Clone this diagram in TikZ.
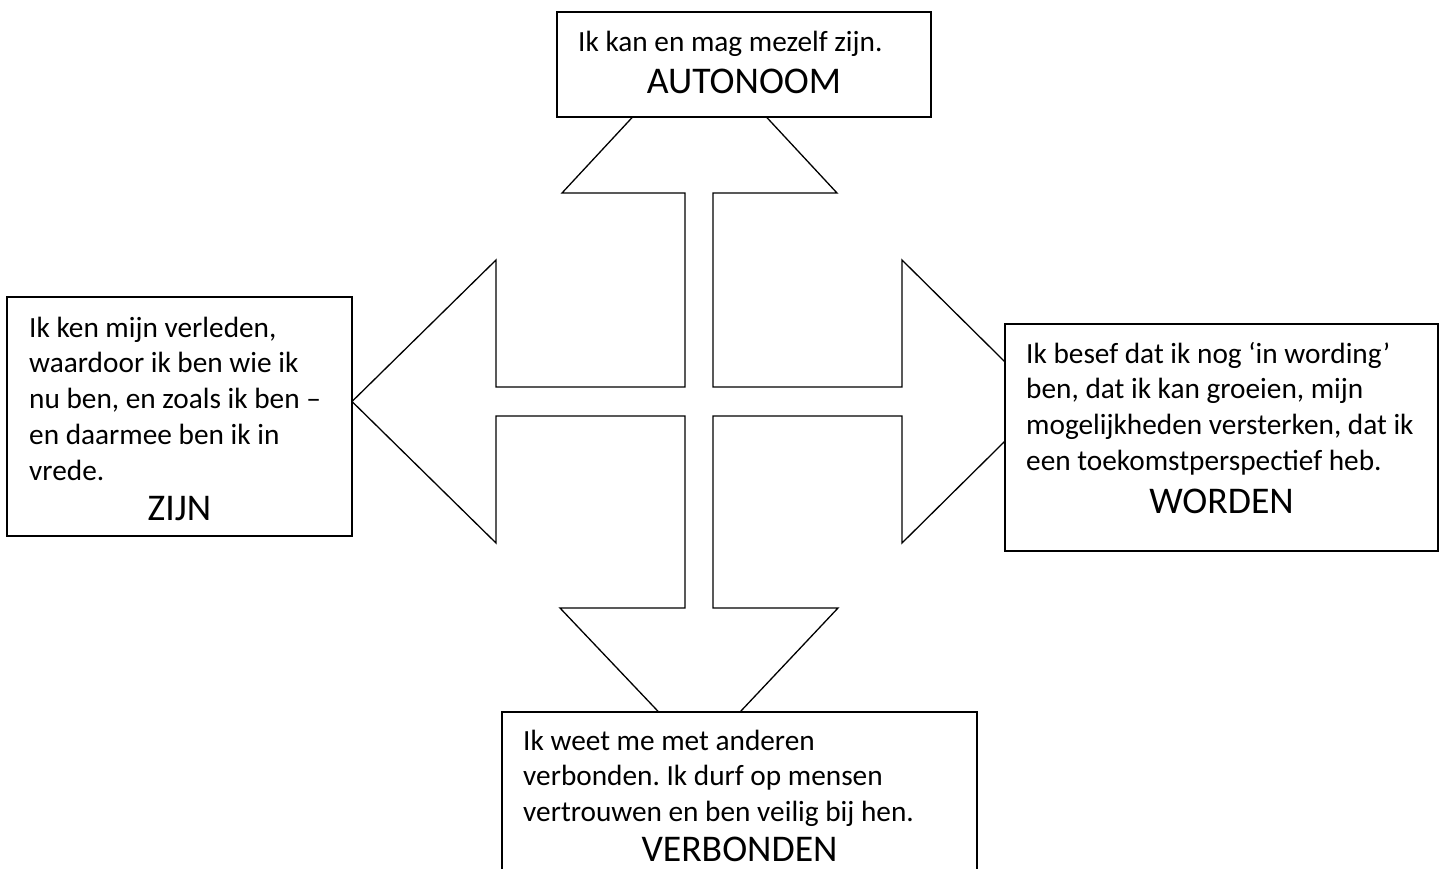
\documentclass[tikz,border=0pt]{standalone}
\usepackage{fontspec}
\setmainfont{Carlito}
\tikzset{
  box/.style={draw, line width=1.8pt, fill=white, rectangle, inner sep=0pt},
  bodytext/.style={inner sep=0pt, anchor=base west, font=\fontsize{29.3}{35.8}\selectfont},
  headtext/.style={inner sep=0pt, anchor=base, font=\fontsize{37.7}{42}\selectfont},
  arrowline/.style={line width=1.3pt, line join=miter}
}
\begin{document}
\frenchspacing
\begin{tikzpicture}[x=1pt, y=-1pt]
\useasboundingbox (0,0) rectangle (1445,868);
\clip (0,0) rectangle (1445,868);
% four-way arrow
\draw[arrowline]
  (685,387) -- (685,193) -- (562,193) -- (699.5,45) -- (837,193) -- (713,193) -- (713,387)
  -- (902,387) -- (902,260) -- (1045,401.5) -- (902,543) -- (902,416)
  -- (713,416) -- (713,608) -- (838,608) -- (699.5,755) -- (560,608) -- (685,608) -- (685,416)
  -- (496,416) -- (496,543) -- (352,401.5) -- (496,260) -- (496,387) -- cycle;
% boxes
\node[box, minimum width=374pt, minimum height=105pt] (topbox) at (744,64.5) {};
\node[box, minimum width=345pt, minimum height=239pt] (leftbox) at (179.5,416.5) {};
\node[box, minimum width=433pt, minimum height=227pt] (rightbox) at (1221.5,437.5) {};
\node[box, minimum width=475pt, minimum height=188pt] (bottombox) at (739.5,806) {};
% texts
\node[bodytext] (toptext) at (578,51) {\parbox[t]{360pt}{Ik kan en mag mezelf zijn.}};
\node[headtext] (tophead) at (744,93) {AUTONOOM};
\node[bodytext] (lefttext) at (29,337) {\parbox[t]{330pt}{Ik ken mijn verleden,\\waardoor ik ben wie ik\\nu ben, en zoals ik ben –\\en daarmee ben ik in\\vrede.}};
\node[headtext] (lefthead) at (179.5,520) {ZIJN};
\node[bodytext] (righttext) at (1026,363) {\parbox[t]{410pt}{Ik besef dat ik nog ‘in wording’\\ben, dat ik kan groeien, mijn\\mogelijkheden versterken, dat ik\\een toekomstperspectief heb.}};
\node[headtext] (righthead) at (1221.5,513) {WORDEN};
\node[bodytext] (bottomtext) at (523,750) {\parbox[t]{450pt}{Ik weet me met anderen\\verbonden. Ik durf op mensen\\vertrouwen en ben veilig bij hen.}};
\node[headtext] (bottomhead) at (739.5,861) {VERBONDEN};
\end{tikzpicture}
\end{document}
